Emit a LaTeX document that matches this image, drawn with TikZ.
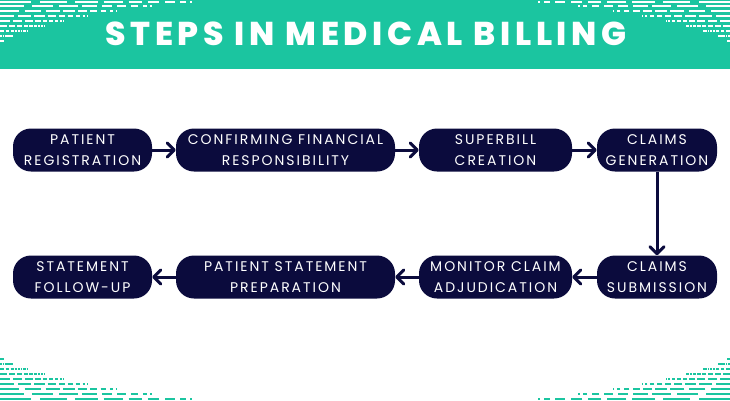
\documentclass[tikz,border=0pt]{standalone}
\usepackage{fontspec}
\usetikzlibrary{arrows.meta}
\newfontfamily\titlefont[LetterSpace=14, BoldFont={Poppins ExtraBold}]{Poppins}
\newfontfamily\boxfont[LetterSpace=14]{Poppins}
\definecolor{band}{HTML}{1BC5A0}
\definecolor{navy}{HTML}{0B0B3D}

\begin{document}
\begin{tikzpicture}[
        x=1pt, y=-1pt,
        stepbox/.style={
            rectangle,
            rounded corners=18pt,
            fill=navy,
            text=white,
            align=center,
            inner sep=0pt,
            minimum height=43pt,
            font=\boxfont\fontsize{14}{21}\selectfont,
        },
        flow/.style={
            draw=navy,
            line width=3pt,
            -{Straight Barb[length=7pt,width=14pt,round]},
        },
        dashline/.style={
            line width=2pt,
        },
    ]

    \useasboundingbox (0,0) rectangle (730,400);
    \fill [band] (0,0) rectangle (730,69);

    % dashed corners
    \foreach \sx/\sy/\ox/\oy/\col in {1/1/0/0/white, -1/1/730/0/white, 1/-1/0/400/band, -1/-1/730/400/band} {
        \begin{scope}[shift={(\ox,\oy)}, xscale=\sx, yscale=\sy]
            \foreach \r/\len in {0/192,1/152,2/117,3/88,4/64,5/44,6/27,7/12,8/3} {
                \foreach \a/\b in {0/.16,.21/.35,.39/.51,.54/.64,.67/.74,.77/.83,.86/.91,.94/.97,.99/1} {
                    \draw [dashline, draw=\col] (\a*\len, 1.5+\r*4.9) -- (\b*\len, 1.5+\r*4.9);
                }
            }
        \end{scope}
    }

    \node (T) at (366,34) [text=white, inner sep=0pt, font=\titlefont\bfseries\fontsize{33}{33}\selectfont] {STEPS IN MEDICAL BILLING};

    \node (PR) at (82.5,150) [stepbox, minimum width=139pt] {PATIENT\\REGISTRATION};
    \node (CFR) at (285.5,150) [stepbox, minimum width=219pt] {CONFIRMING FINANCIAL\\RESPONSIBILITY};
    \node (SC) at (495.5,150) [stepbox, minimum width=153pt] {SUPERBILL\\CREATION};
    \node (CG) at (657,150) [stepbox, minimum width=120pt] {CLAIMS\\GENERATION};

    \node (CS) at (657,277) [stepbox, minimum width=120pt] {CLAIMS\\SUBMISSION};
    \node (MCA) at (495.5,277) [stepbox, minimum width=153pt] {MONITOR CLAIM\\ADJUDICATION};
    \node (PSP) at (285.5,277) [stepbox, minimum width=219pt] {PATIENT STATEMENT\\PREPARATION};
    \node (SFU) at (82.5,277) [stepbox, minimum width=139pt] {STATEMENT\\FOLLOW-UP};

    \draw [flow] (PR) -- (CFR);
    \draw [flow] (CFR) -- (SC);
    \draw [flow] (SC) -- (CG);
    \draw [flow] (CG) -- (CS);
    \draw [flow] (CS) -- (MCA);
    \draw [flow] (MCA) -- (PSP);
    \draw [flow] (PSP) -- (SFU);

\end{tikzpicture}
\end{document}
